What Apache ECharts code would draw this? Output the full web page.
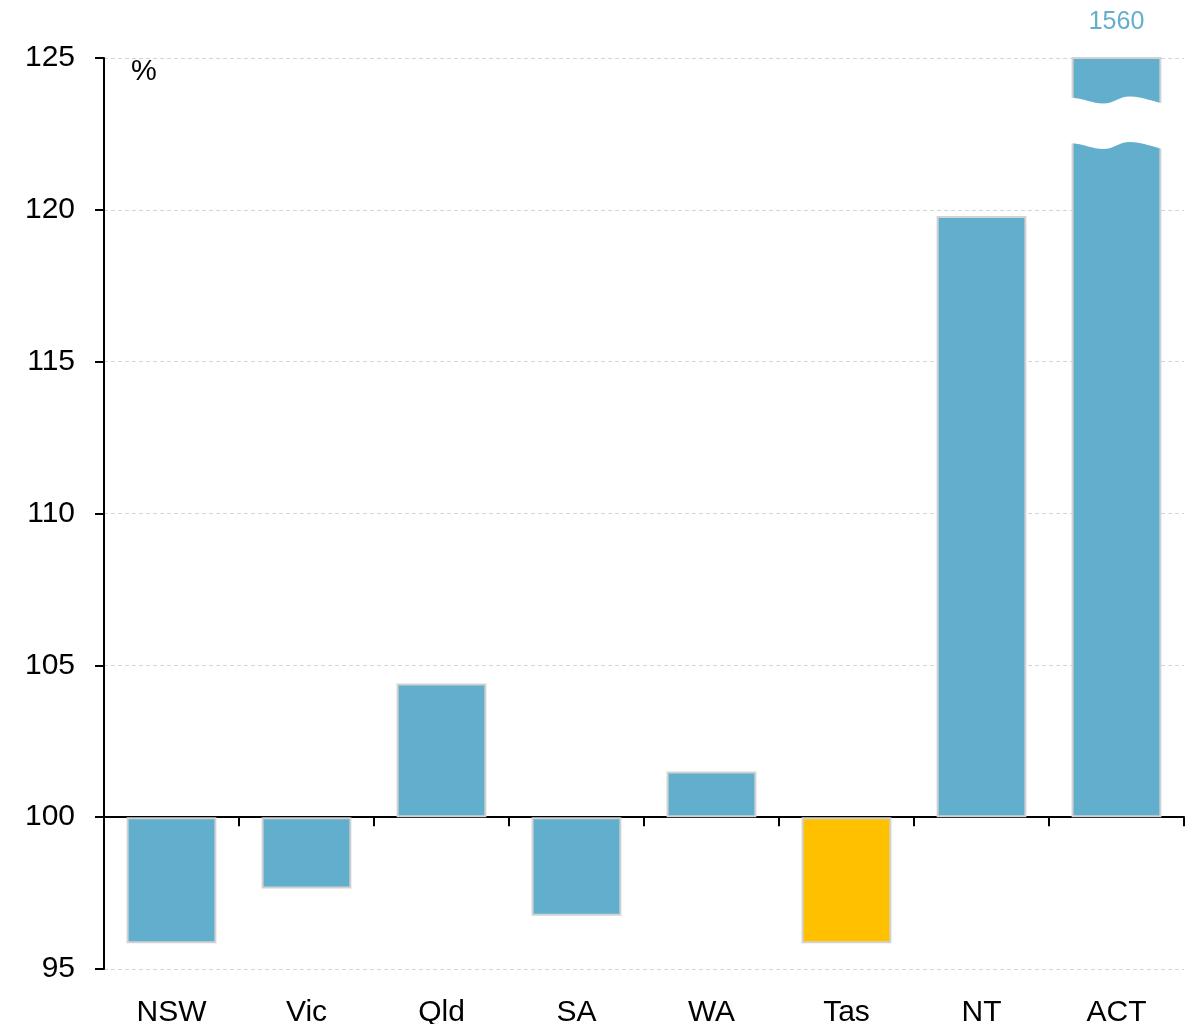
<!DOCTYPE html>
<html>
<head>
<meta charset="utf-8">
<script src="https://cdn.jsdelivr.net/npm/echarts@6/dist/echarts.min.js"></script>
<style>
  html, body { margin: 0; padding: 0; background: #fff; }
  #chart { width: 1194px; height: 1024px; }
</style>
</head>
<body>
<div id="chart"></div>
<script>
// States and territories, index value (100 = national average)
const categories = ['NSW', 'Vic', 'Qld', 'SA', 'WA', 'Tas', 'NT', 'ACT'];
const values = [95.85, 97.65, 104.4, 96.75, 101.5, 95.85, 119.8, 1560];
const highlighted = ['Tas'];

// Value axis ticks
const yTicks = [95, 100, 105, 110, 115, 120, 125];
const baseline = 100;

// Span cut out of the ACT bar to mark the broken scale
const breakLow = 122.2;
const breakHigh = 123.7;

const BLUE = '#62afcd';
const GOLD = '#ffc000';
const FONT = 'Liberation Sans';

const yMin = yTicks[0] - baseline;
const yMax = yTicks[yTicks.length - 1] - baseline;
const offTop = values.findIndex(v => v - baseline > yMax);

const barData = values.map((v, i) => ({
  value: v - baseline,
  itemStyle: { color: highlighted.includes(categories[i]) ? GOLD : BLUE }
}));

const chart = echarts.init(document.getElementById('chart'));
chart.setOption({
  animation: false,
  backgroundColor: '#fff',
  title: {
    text: '%',
    left: 126, top: 52,
    textStyle: { fontFamily: FONT, fontSize: 29, fontWeight: 'normal', color: '#000' }
  },
  grid: { left: 104, right: 10, top: 58, bottom: 55, containLabel: false, outerBoundsMode: 'none' },
  xAxis: [
    {
      type: 'category',
      data: categories,
      axisLine: { onZero: true, lineStyle: { color: '#000', width: 2 } },
      axisTick: { show: true, length: 9, lineStyle: { color: '#000', width: 2 } },
      axisLabel: { show: false },
      splitLine: { show: false }
    },
    {
      type: 'category',
      data: categories,
      position: 'bottom',
      axisLine: { show: false, onZero: false },
      axisTick: { show: false },
      axisLabel: { margin: 29, fontFamily: FONT, fontSize: 30, color: '#000' },
      splitLine: { show: false }
    }
  ],
  yAxis: {
    type: 'value',
    min: yMin, max: yMax, interval: 5,
    axisLine: { show: true, lineStyle: { color: '#000', width: 2 } },
    axisTick: { show: true, length: 9, lineStyle: { color: '#000', width: 2 } },
    axisLabel: {
      margin: 29, fontFamily: FONT, fontSize: 30, color: '#000',
      formatter: v => String(v + baseline)
    },
    splitLine: { show: true, lineStyle: { color: '#d4d4d4', width: 1, type: [4, 3] } }
  },
  series: [
    {
      type: 'bar',
      xAxisIndex: 0,
      data: barData,
      barWidth: '66.5%',
      clip: true,
      itemStyle: { borderColor: '#d2d2d2', borderWidth: 2 },
      z: 2
    },
    {
      // wavy white gap and value label for the bar that runs off the scale
      type: 'custom',
      xAxisIndex: 0,
      clip: false,
      z: 5,
      data: offTop >= 0 ? [[offTop, breakLow - baseline, breakHigh - baseline, values[offTop], yMax]] : [],
      renderItem: function (params, api) {
        const idx = api.value(0);
        const lo = api.coord([idx, api.value(1)]);
        const hi = api.coord([idx, api.value(2)]);
        const top = api.coord([idx, api.value(4)]);
        const w = api.size([1, 0])[0] * 0.665 + 6;
        const x0 = lo[0] - w / 2;
        const a = 6; // wave depth
        const wave = (y) =>
          `C ${x0 + 0.18 * w} ${y + 1} ${x0 + 0.24 * w} ${y + a} ${x0 + 0.36 * w} ${y + a} ` +
          `C ${x0 + 0.48 * w} ${y + a} ${x0 + 0.52 * w} ${y - 1} ${x0 + 0.64 * w} ${y - 1} ` +
          `C ${x0 + 0.78 * w} ${y - 1} ${x0 + 0.9 * w} ${y + a - 1} ${x0 + w} ${y + a}`;
        const waveBack = (y) =>
          `C ${x0 + 0.9 * w} ${y + a - 1} ${x0 + 0.78 * w} ${y - 1} ${x0 + 0.64 * w} ${y - 1} ` +
          `C ${x0 + 0.52 * w} ${y - 1} ${x0 + 0.48 * w} ${y + a} ${x0 + 0.36 * w} ${y + a} ` +
          `C ${x0 + 0.24 * w} ${y + a} ${x0 + 0.18 * w} ${y + 1} ${x0} ${y}`;
        const yTop = hi[1];
        const yBot = lo[1];
        const d = `M ${x0} ${yTop} ${wave(yTop)} L ${x0 + w} ${yBot + a} ${waveBack(yBot)} Z`;
        return {
          type: 'group',
          children: [
            { type: 'path', shape: { pathData: d }, style: { fill: '#fff', stroke: null } },
            {
              type: 'text',
              x: top[0], y: top[1] - 36,
              style: {
                text: String(api.value(3)),
                fill: BLUE,
                font: `25px "${FONT}"`,
                align: 'center',
                verticalAlign: 'middle'
              }
            }
          ]
        };
      }
    }
  ]
});
</script>
</body>
</html>
